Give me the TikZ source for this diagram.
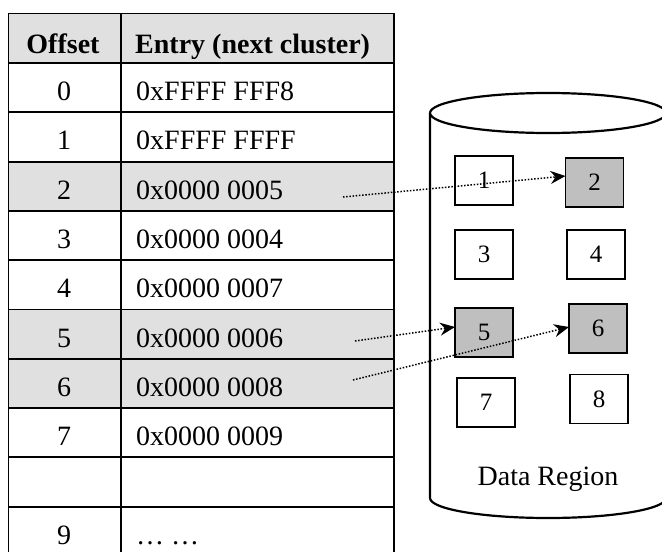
\documentclass[tikz,border=0pt]{standalone}
\usepackage{fontspec}
\setmainfont{Liberation Serif}
\usetikzlibrary{arrows.meta,calc}

\definecolor{rowgray}{gray}{0.88}
\definecolor{boxgray}{gray}{0.75}

\tikzset{
  grid/.style={line width=1.9pt, line cap=rect},
  celltext/.style={inner sep=0pt, font=\fontsize{28}{33}\selectfont},
  cyl/.style={line width=2.2pt},
  cluster/.style={draw, line width=1.4pt, minimum width=58pt, minimum height=49pt,
    inner sep=0pt, outer sep=0pt, fill=white, font=\fontsize{25}{30}\selectfont},
  used/.style={fill=boxgray},
  ptr/.style={line width=1.5pt, dash pattern=on 1.5pt off 1.7pt,
    -{Stealth[length=15pt,width=13pt,inset=5pt]}}
}

\begin{document}
\begin{tikzpicture}[x=1pt,y=-1pt]
\useasboundingbox (0,0) rectangle (662,552);

% ---- FAT table: shaded header and chain rows
\fill[rowgray] (8.5,13.5) rectangle (394,63);
\fill[rowgray] (8.5,161.6) rectangle (394,210.9);
\fill[rowgray] (8.5,309.5) rectangle (394,408.1);

% ---- table rules
\foreach \x in {8.5,121,394}
  \draw[grid] (\x,13.5) -- (\x,560);
\draw[grid] (8.5,13.5) -- (394,13.5);
\draw[grid] (8.5,63) -- (394,63);
\foreach \k in {1,...,9}
  \draw[grid] (8.5,{63+49.3*\k}) -- (394,{63+49.3*\k});

% ---- header
\node[celltext, anchor=base] (hoff) at (63,53.5) {\bfseries Offset};
\node[celltext, anchor=base west] (hent) at (135,53.5) {\bfseries Entry (next cluster)};

% ---- table body
\foreach \k/\o/\e in {0/0/0xFFFF FFF8, 1/1/0xFFFF FFFF, 2/2/0x0000 0005,
    3/3/0x0000 0004, 4/4/0x0000 0007, 5/5/0x0000 0006, 6/6/0x0000 0008,
    7/7/0x0000 0009, 9/9/\dots{} \dots}{
  \node[celltext, anchor=base] (off\k) at (64,{63+49.3*\k+37.5}) {\o};
  \node[celltext, anchor=base west] (ent\k) at (136,{63+49.3*\k+37.5}) {\e};
}

% ---- data region cylinder
\draw[cyl] (430,113) -- (430,498)
  arc[start angle=180, end angle=0, x radius=118, y radius=20] -- (666,113);
\draw[cyl, fill=white] (548,113) ellipse[x radius=118, y radius=20];

% ---- clusters
\node[cluster]       (b1) at (484,180.5) {1};
\node[cluster, used] (b2) at (594.5,182.5) {2};
\node[cluster]       (b3) at (484,254.5) {3};
\node[cluster]       (b4) at (596,254.5) {4};
\node[cluster, used] (b5) at (484,332.5) {5};
\node[cluster, used] (b6) at (598,328.5) {6};
\node[cluster]       (b7) at (486,402.5) {7};
\node[cluster]       (b8) at (599,399) {8};

\node[celltext, anchor=base] (dr) at (548,485.5) {Data Region};

% ---- chain pointers
\coordinate (p2) at (343,197);
\coordinate (p5) at (355,341);
\coordinate (p6) at (353,380);
\draw[ptr] (p2) -- ([yshift=6.5pt]b2.west);
\draw[ptr] (p5) -- ([yshift=5.5pt]b5.west);
\draw[ptr] (p6) -- ([yshift=1.5pt]b6.west);
\end{tikzpicture}
\end{document}
